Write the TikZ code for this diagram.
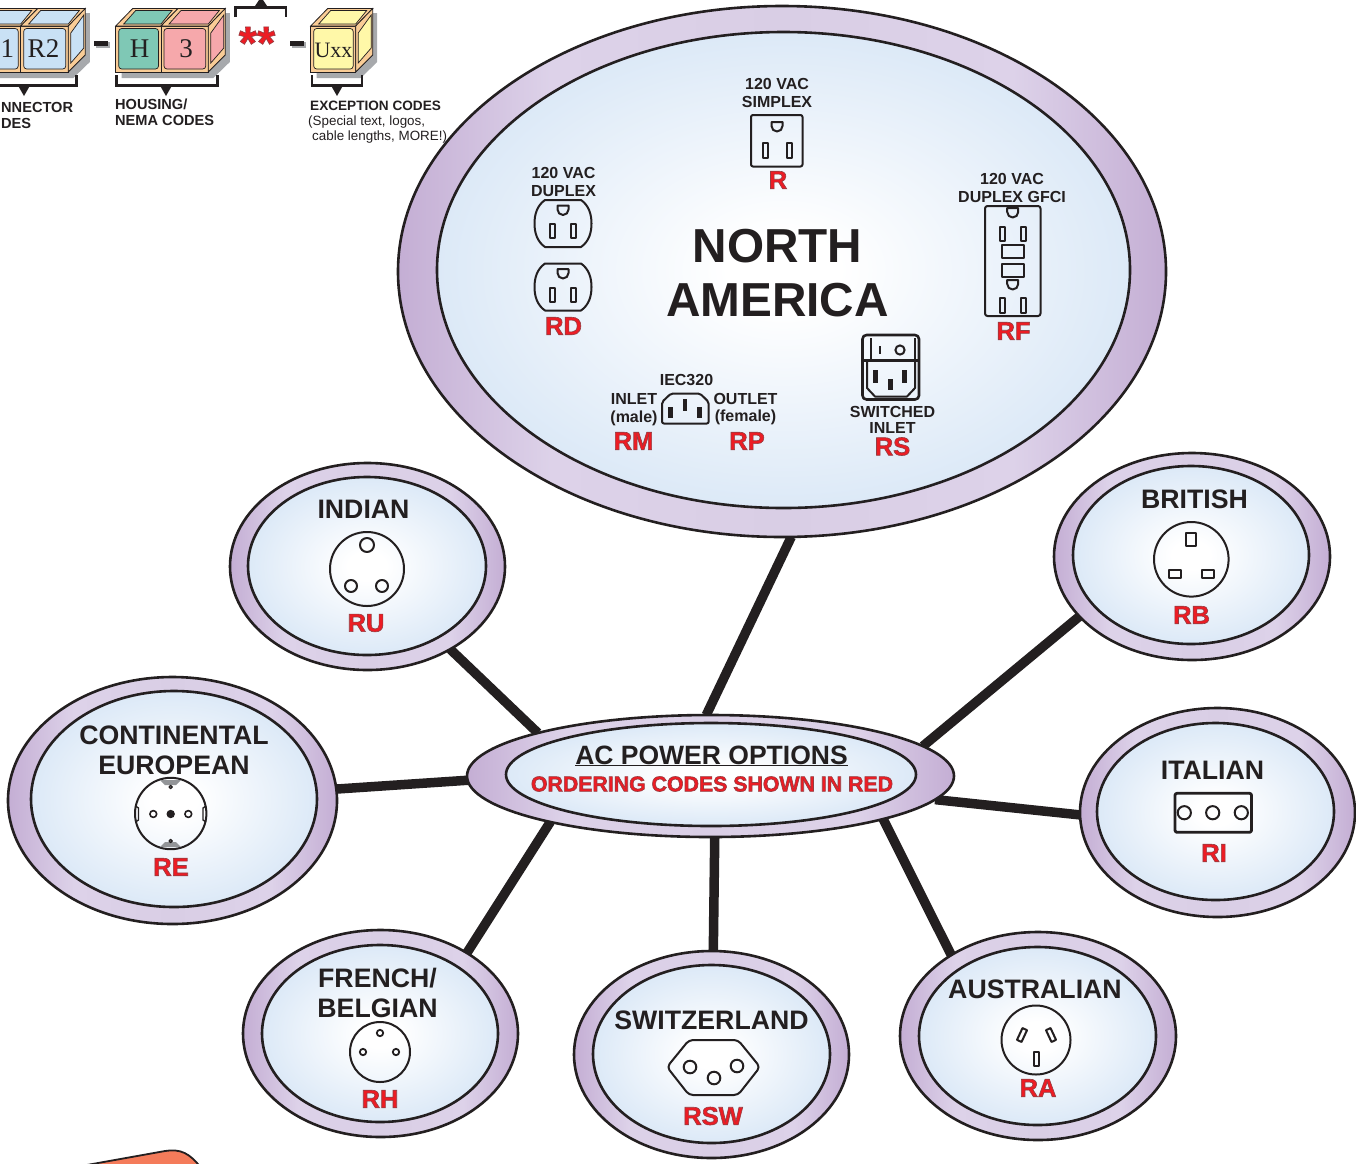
\documentclass[tikz,border=0pt]{standalone}
\usepackage{fontspec}
\setmainfont{Liberation Sans}
\newfontfamily\cubefont{Liberation Serif}
\usetikzlibrary{shapes.geometric}

\definecolor{inkdark}{HTML}{231F20}
\definecolor{codered}{HTML}{ED1C24}
\definecolor{ringedge}{HTML}{C4AED4}
\definecolor{ringlight}{HTML}{DDD2E9}
\definecolor{ringmid}{HTML}{D9CEE5}
\definecolor{faceedge}{HTML}{DCE9F7}
\definecolor{cubetan}{HTML}{F9CC96}
\definecolor{cubegray}{HTML}{A7A9AC}
\definecolor{cubeblue}{HTML}{C9E1F5}
\definecolor{cubeteal}{HTML}{7FC8B5}
\definecolor{cubepink}{HTML}{F6A8AB}
\definecolor{cubeyellow}{HTML}{FFF8A8}
\definecolor{tabgray}{HTML}{939598}
\definecolor{cornerorange}{HTML}{F47B5A}

\pgfdeclarehorizontalshading{ringshade}{100bp}{color(0bp)=(ringedge); color(25bp)=(ringedge); color(35bp)=(ringlight); color(50bp)=(ringmid); color(65bp)=(ringlight); color(75bp)=(ringedge); color(100bp)=(ringedge)}
\pgfdeclareradialshading{faceshade}{\pgfpoint{0bp}{0bp}}{color(0bp)=(white); color(4bp)=(white); color(25bp)=(faceedge); color(50bp)=(faceedge)}
\pgfdeclarelayer{wires}
\pgfsetlayers{wires,main}

\tikzset{
  ringout/.style={ellipse,draw=inkdark,line width=2.6,shading=ringshade,inner sep=0,outer sep=0},
  ringin/.style={ellipse,draw=inkdark,line width=2.6,shading=faceshade,inner sep=0,outer sep=0},
  wire/.style={draw=inkdark,line width=9.5},
  socket/.style={draw=inkdark,line width=2,line join=round},
  bracket/.style={draw=inkdark,line width=2.6},
  cubeframe/.style={draw=inkdark,line width=.8,fill=cubetan},
  cubeinner/.style={draw=inkdark,line width=.7},
  smalltxt/.style={font=\bfseries\fontsize{16}{17.5}\selectfont,align=center,inner sep=0,text=inkdark},
  keytxt/.style={font=\bfseries\fontsize{14.6}{16.5}\selectfont,align=left,inner sep=0,text=inkdark,anchor=west},
  notetxt/.style={font=\fontsize{13.4}{15}\selectfont,inner sep=0,text=inkdark,anchor=west},
  titletxt/.style={font=\bfseries\fontsize{26.7}{29.5}\selectfont,align=center,inner sep=0,text=inkdark},
  codetxt/.style={font=\bfseries\fontsize{25.5}{25.5}\selectfont,inner sep=0,text=codered},
  cubetxt/.style={font=\cubefont\fontsize{27}{27}\selectfont,inner sep=0,text=inkdark},
}

% red text with a thin edge
\newcommand{\edged}[1]{\special{pdf:code 2 Tr .6 w .58 .24 .26 RG}#1\special{pdf:code 0 Tr}}
\newcommand{\pinslot}[4]{\draw[socket] ({#1-#3/2},{#2-#4/2}) rectangle ({#1+#3/2},{#2+#4/2});}
\newcommand{\groundpin}[2]{\draw[socket] ({#1-5.5},#2) -- ({#1+5.5},#2) -- ({#1+5.5},{#2+4}) arc (0:180:5.5) -- cycle;}
\newcommand{\duplexface}[2]{%
  \draw[socket] ({#1-18},{#2-23.5}) -- ({#1+18},{#2-23.5}) .. controls ({#1+26},{#2-18}) and ({#1+28.5},{#2-9}) .. ({#1+28.5},#2)
    .. controls ({#1+28.5},{#2+9}) and ({#1+26},{#2+18}) .. ({#1+18},{#2+23.5}) -- ({#1-18},{#2+23.5})
    .. controls ({#1-26},{#2+18}) and ({#1-28.5},{#2+9}) .. ({#1-28.5},#2)
    .. controls ({#1-28.5},{#2-9}) and ({#1-26},{#2-18}) .. ({#1-18},{#2-23.5}) -- cycle;
  \groundpin{#1}{#2-18}
  \pinslot{#1-10.5}{#2+7.5}{5}{14}
  \pinslot{#1+10.5}{#2+7.5}{5}{14}}
\newcommand{\castshadow}[2]{\fill[cubegray] ({#1+6},72) -- ({#1+6},78) -- ({#2+5},78) -- ({#2+21.5},62) -- ({#2+21.5},13) -- ({#2+15},13) -- (#2,72) -- cycle;}
\newcommand{\cubeseg}[3]{%
  \draw[cubeframe] (#1,26) rectangle ({#1+#2},72);
  \draw[cubeframe] (#1,26) -- ({#1+17},8.5) -- ({#1+#2+17},8.5) -- ({#1+#2},26) -- cycle;
  \draw[cubeinner,fill=#3,rounded corners=3] ({#1+3},28.5) rectangle ({#1+#2-2.5},69);
  \draw[cubeinner,fill=#3] ({#1+8},24) -- ({#1+20},10.5) -- ({#1+#2+11},10.5) -- ({#1+#2},24) -- cycle;}
\newcommand{\cubeside}[2]{%
  \draw[cubeframe] (#1,26) -- ({#1+17},8.5) -- ({#1+17},55) -- (#1,72) -- cycle;
  \draw[cubeinner,fill=#2] ({#1+2.5},33) -- ({#1+15.5},15) -- ({#1+15.5},48) -- ({#1+2.5},63) -- cycle;}

\begin{document}
\begin{tikzpicture}[x=1pt,y=-1pt]
  \clip (0,0) rectangle (1356,1163);

  % Ovals
  \node[ringout,minimum width=768,minimum height=531] (na) at (782,271.5) {};
  \node[ringin,minimum width=693,minimum height=476] (naface) at (783.5,270) {};
  \node[ringout,minimum width=275,minimum height=207] (indian) at (367.5,566.5) {};
  \node[ringin,minimum width=238,minimum height=178] (indianface) at (367,566) {};
  \node[ringout,minimum width=276,minimum height=207] (british) at (1192,556.5) {};
  \node[ringin,minimum width=236,minimum height=178] (britishface) at (1191,555) {};
  \node[ringout,minimum width=275,minimum height=209] (italian) at (1217.5,812.5) {};
  \node[ringin,minimum width=237,minimum height=177] (italianface) at (1215.5,811.5) {};
  \node[ringout,minimum width=329,minimum height=247] (european) at (172.5,800.5) {};
  \node[ringin,minimum width=286,minimum height=216] (europeanface) at (174,799) {};
  \node[ringout,minimum width=275,minimum height=207] (french) at (380.5,1033.5) {};
  \node[ringin,minimum width=236,minimum height=177] (frenchface) at (380,1033.5) {};
  \node[ringout,minimum width=275,minimum height=207] (swiss) at (711.5,1054.5) {};
  \node[ringin,minimum width=237,minimum height=178] (swissface) at (711.5,1054) {};
  \node[ringout,minimum width=276,minimum height=208] (aussie) at (1038,1036) {};
  \node[ringin,minimum width=237,minimum height=178] (aussieface) at (1037.5,1036) {};
  \node[ringout,minimum width=487,minimum height=122] (hub) at (710.5,776) {};
  \node[ringin,minimum width=410,minimum height=103] (hubface) at (711,774.5) {};

  % Spokes
  \begin{pgfonlayer}{wires}
    \draw[wire] (na.-88.8) -- (hub.94);
    \draw[wire] (indian.-45.3) -- (hub.166.8);
    \draw[wire] (european.4.2) -- (hub.181);
    \draw[wire] (british.208.6) -- (hub.8.1);
    \draw[wire] (italian.181.3) -- (hub.-6.9);
    \draw[wire] (french.43.6) -- (hub.196.5);
    \draw[wire] (swiss.89.5) -- (hub.-86);
    \draw[wire] (aussie.137.4) -- (hub.-14.8);
  \end{pgfonlayer}

  % Hub text
  \node[inner sep=0,text=inkdark,font=\bfseries\fontsize{26.5}{27}\selectfont] (hubtitle) at (711.5,755) {AC POWER OPTIONS};
  \draw[inkdark,line width=1.8] ([yshift=-1]hubtitle.south west) -- ([yshift=-1]hubtitle.south east);
  \node[codetxt,font=\bfseries\fontsize{21.3}{21.3}\selectfont] (hubcode) at (712,784) {\edged{ORDERING CODES SHOWN IN RED}};

  % North America
  \node[inner sep=0,align=center,text=inkdark,font=\bfseries\fontsize{47.7}{54}\selectfont] (natitle) at (777.5,273) {NORTH\\AMERICA};
  \node[smalltxt] (simplextxt) at (777,93) {120 VAC\\SIMPLEX};
  \draw[socket,rounded corners=2] (751,115) rectangle (802.5,166.5);
  \groundpin{777}{122}
  \pinslot{765}{150.5}{5}{15.5}
  \pinslot{789}{150.5}{5}{15.5}
  \node[codetxt] (rcode) at (778,180) {\edged{R}};

  \node[smalltxt] (duplextxt) at (563.5,182) {120 VAC\\DUPLEX};
  \duplexface{563}{223.5}
  \duplexface{563}{287}
  \node[codetxt] (rdcode) at (563.5,326) {\edged{RD}};

  \node[smalltxt] (gfcitxt) at (1012,188) {120 VAC\\DUPLEX GFCI};
  \draw[socket,rounded corners=2.5] (985,206) rectangle (1040.5,316);
  \groundpin{1012.7}{208}
  \pinslot{1002.5}{234}{5}{14.5}
  \pinslot{1023.5}{234}{5}{14.5}
  \draw[socket] (1002,245) rectangle (1024,257.5);
  \draw[socket] (1002,264) rectangle (1024,276.5);
  \groundpin{1012.7}{280}
  \pinslot{1002.5}{305.5}{5}{14.5}
  \pinslot{1023.5}{305.5}{5}{14.5}
  \node[codetxt] (rfcode) at (1013.5,331) {\edged{RF}};

  \draw[socket,line width=2.6,rounded corners=4] (862.5,335) rectangle (919,399.5);
  \draw[socket] (871,338) -- (871,359) (915,338) -- (915,359);
  \draw[inkdark,line width=3.6] (864,360.5) -- (918,360.5);
  \draw[socket] (867,362) -- (867,388) -- (875,396.5) -- (907,396.5) -- (915,388) -- (915,362);
  \draw[inkdark,line width=2.2] (880,346) -- (880,354);
  \draw[socket] (900,350) circle (4.6);
  \fill[inkdark] (873.2,370) rectangle (878.2,382.5);
  \fill[inkdark] (888.2,378.5) rectangle (892.7,390);
  \fill[inkdark] (902.2,370) rectangle (907.2,382.5);
  \node[smalltxt,font=\bfseries\fontsize{16}{16}\selectfont] (switchtxt) at (892.5,419.5) {SWITCHED\\INLET};
  \node[codetxt] (rscode) at (892.5,446.5) {\edged{RS}};

  \node[smalltxt] (iectxt) at (686.5,380) {IEC320};
  \draw[socket,rounded corners=2] (662,423.5) -- (662,402) -- (671,393.5) -- (700,393.5) -- (708.7,402) -- (708.7,423.5) -- cycle;
  \fill[inkdark] (668,407.3) rectangle (672.7,418.3);
  \fill[inkdark] (682.7,399.3) rectangle (687.3,410.7);
  \fill[inkdark] (697.3,407.3) rectangle (702,418.3);
  \node[smalltxt,font=\bfseries\fontsize{16}{18}\selectfont] (inlettxt) at (634,410) {INLET\\(male)};
  \node[smalltxt,font=\bfseries\fontsize{16}{17}\selectfont] (outlettxt) at (745.5,409.5) {OUTLET\\(female)};
  \node[codetxt] (rmcode) at (633.5,441) {\edged{RM}};
  \node[codetxt] (rpcode) at (747,441) {\edged{RP}};

  % Indian
  \node[titletxt] (indiantxt) at (363.5,509) {INDIAN};
  \draw[socket] (367,569) circle (37);
  \draw[socket] (367,545) circle (7);
  \draw[socket] (351,586) circle (6);
  \draw[socket] (382,586) circle (6);
  \node[codetxt] (rucode) at (366,623) {\edged{RU}};

  % British
  \node[titletxt] (britishtxt) at (1194.5,499.5) {BRITISH};
  \draw[socket] (1191.3,559.3) circle (37.3);
  \pinslot{1191.3}{539.7}{10}{13.5}
  \pinslot{1174.7}{574}{12}{7.5}
  \pinslot{1208}{574}{12}{7.5}
  \node[codetxt] (rbcode) at (1191.5,615) {\edged{RB}};

  % Italian
  \node[titletxt] (italiantxt) at (1212.5,770.5) {ITALIAN};
  \draw[socket,line width=2.8,rounded corners=2] (1175,793.3) rectangle (1251.5,832.3);
  \draw[socket] (1184.3,812.7) circle (6.6);
  \draw[socket] (1212.7,812.7) circle (6.6);
  \draw[socket] (1241.3,812.7) circle (6.6);
  \node[codetxt] (ricode) at (1214,853) {\edged{RI}};

  % Continental European
  \node[titletxt] (europeantxt) at (174,750.5) {CONTINENTAL\\EUROPEAN};
  \draw[socket] (170.7,813.5) circle (35.7);
  \fill[tabgray] (160,780) -- (181,780) -- (176,785) -- (165,785) -- cycle;
  \fill[tabgray] (160,847) -- (181,847) -- (176,842) -- (165,842) -- cycle;
  \draw[socket,line width=1.3] (170.7,787) circle (1.6) (170.7,841) circle (1.6);
  \draw[socket,line width=1.3] (135.5,806) -- (138.5,808) -- (138.5,820) -- (135.5,822);
  \draw[socket,line width=1.3] (206,806) -- (203,808) -- (203,820) -- (206,822);
  \draw[socket,line width=1.6] (153.3,814) circle (3.4);
  \draw[socket,line width=1.6] (188.3,814) circle (3.4);
  \fill[inkdark] (170.7,814) circle (4.2);
  \node[codetxt] (recode) at (171,867) {\edged{RE}};

  % French / Belgian
  \node[titletxt] (frenchtxt) at (377.5,993) {FRENCH/\\BELGIAN};
  \draw[socket] (380,1052) circle (30);
  \draw[socket,line width=1.8] (380,1033) circle (3.2);
  \draw[socket,line width=1.8] (363,1052) circle (3.2);
  \draw[socket,line width=1.8] (396,1052) circle (3.2);
  \node[codetxt] (rhcode) at (380,1099) {\edged{RH}};

  % Switzerland
  \node[titletxt] (swisstxt) at (711.5,1020) {SWITZERLAND};
  \draw[socket,rounded corners=4] (667,1067) -- (689,1040) -- (738,1040) -- (760,1067) -- (738,1095) -- (689,1095) -- cycle;
  \draw[socket] (690,1067) circle (6.3);
  \draw[socket] (737,1066) circle (6.3);
  \draw[socket] (714,1078) circle (6.3);
  \node[codetxt] (rswcode) at (713,1116) {\edged{RSW}};

  % Australian
  \node[titletxt] (aussietxt) at (1035,989) {AUSTRALIAN};
  \draw[socket] (1036,1040) circle (34.5);
  \draw[socket,rotate around={-25:(1022,1035)}] (1019.5,1028.5) rectangle (1024.5,1041.5);
  \draw[socket,rotate around={25:(1051,1035)}] (1048.5,1028.5) rectangle (1053.5,1041.5);
  \pinslot{1036}{1059}{5}{14}
  \node[codetxt] (racode) at (1038,1088) {\edged{RA}};

  % Key cubes
  \castshadow{-27}{68.3}
  \cubeseg{-27}{47.7}{cubeblue}
  \cubeseg{20.7}{47.6}{cubeblue}
  \cubeside{68.3}{cubeblue}
  \node[cubetxt] (ronetxt) at (7.5,48.5) {1};
  \node[cubetxt] (rtwotxt) at (43.5,48.5) {R2};

  \castshadow{115.7}{208.3}
  \cubeseg{115.7}{45.3}{cubeteal}
  \cubeseg{161}{47.3}{cubepink}
  \cubeside{208.3}{cubepink}
  \node[cubetxt] (housetxt) at (139.5,48.5) {H};
  \node[cubetxt] (nematxt) at (186,48.5) {3};

  \castshadow{310.7}{355.7}
  \cubeseg{310.7}{45}{cubeyellow}
  \cubeside{355.7}{cubeyellow}
  \node[cubetxt,font=\cubefont\fontsize{22}{22}\selectfont] (exctxt) at (333.5,50.5) {Uxx};

  % Dashes and stars
  \draw[cubegray,line width=5.5] (95.5,45) -- (109.5,45);
  \draw[inkdark,line width=5] (94,43.5) -- (108,43.5);
  \draw[cubegray,line width=5.5] (291.5,45) -- (305.5,45);
  \draw[inkdark,line width=5] (290,43.5) -- (304,43.5);
  \node[inner sep=0,text=codered,font=\bfseries\fontsize{47}{47}\selectfont] (starstxt) at (257,43) {\edged{**}};
  \draw[bracket] (235.7,17) -- (235.7,7.5) -- (286,7.5) -- (286,17);
  \fill[inkdark] (254,7.5) -- (259,0) -- (263,0) -- (268,7.5) -- cycle;

  % Brackets
  \draw[bracket] (-10,85.5) -- (76.3,85.5) -- (76.3,75);
  \fill[inkdark] (18,85.5) -- (30,85.5) -- (24,96) -- cycle;
  \draw[bracket] (116.7,75) -- (116.7,85.5) -- (217.7,85.5) -- (217.7,75);
  \fill[inkdark] (160,85.5) -- (172,85.5) -- (166,96) -- cycle;
  \draw[bracket] (312,75) -- (312,85.5) -- (362,85.5) -- (362,75);
  \fill[inkdark] (331,85.5) -- (343,85.5) -- (337,96) -- cycle;

  % Key labels
  \node[keytxt] (conntxt) at (1,115.5) {NNECTOR\\DES};
  \node[keytxt] (housingtxt) at (115,112.5) {HOUSING/\\NEMA CODES};
  \node[keytxt,font=\bfseries\fontsize{13.6}{16}\selectfont] (exceptxt) at (310,106) {EXCEPTION CODES};
  \node[notetxt] (specialtxt) at (308,122) {(Special text, logos,};
  \node[notetxt] (lengthtxt) at (312,137) {cable lengths, MORE!)};

  % Corner of the next panel
  \draw[inkdark,line width=1.8,fill=cornerorange] (70,1168) -- (165,1151) .. controls (180,1148.5) and (190,1153) .. (201,1168) -- cycle;
\end{tikzpicture}
\end{document}
